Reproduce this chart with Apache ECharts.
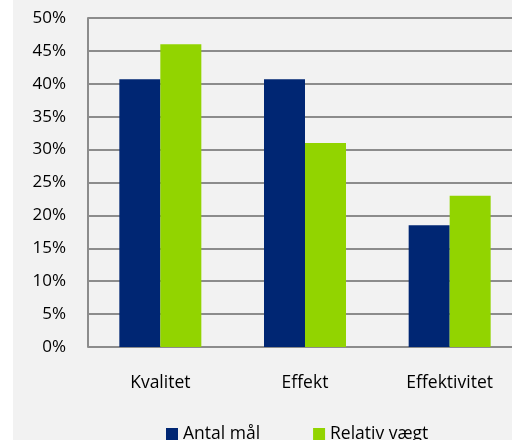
<!DOCTYPE html>
<html>
<head>
<meta charset="utf-8">
<script src="https://cdn.jsdelivr.net/npm/echarts@6/dist/echarts.min.js"></script>
<style>
  html, body { margin: 0; padding: 0; background: #ffffff; overflow: hidden; }
  #chart { width: 522px; height: 440px; }
</style>
</head>
<body>
<div id="chart"></div>
<script>
// Categories and series values (shares, 0..1)
const categories = ['Kvalitet', 'Effekt', 'Effektivitet'];
const antalMaal = [0.407, 0.407, 0.185];
const relativVaegt = [0.46, 0.31, 0.23];
const seriesNames = ['Antal mål', 'Relativ vægt'];

const font = '"Open Sans", "Noto Sans", sans-serif';
const gridColor = '#8c8c8c';

const chart = echarts.init(document.getElementById('chart'), null, { renderer: 'canvas' });

chart.setOption({
  backgroundColor: '#f2f2f2',
  animation: false,
  graphic: [
    { type: 'rect', left: 0, top: 0, shape: { width: 13, height: 440 }, style: { fill: '#ffffff' }, z: -1 }
  ],
  grid: { left: 88, top: 18, bottom: 93, right: 0 },
  legend: {
    left: 166,
    top: 425,
    padding: 0,
    itemWidth: 12,
    itemHeight: 12,
    itemGap: 53,
    icon: 'rect',
    textStyle: { fontFamily: font, fontSize: 17.5, color: '#000000', padding: [0, 0, 0, 0] },
    data: seriesNames
  },
  xAxis: {
    type: 'category',
    data: categories,
    axisLine: { show: false },
    axisTick: { show: false },
    axisLabel: { margin: 27, fontFamily: font, fontSize: 17.5, color: '#000000' }
  },
  yAxis: {
    type: 'value',
    min: 0,
    max: 0.5,
    interval: 0.05,
    axisLine: { show: true, lineStyle: { color: gridColor, width: 2 } },
    axisTick: { show: false },
    splitLine: { show: true, lineStyle: { color: gridColor, width: 2 } },
    axisLabel: {
      margin: 22,
      fontFamily: font,
      fontSize: 17,
      color: '#000000',
      formatter: v => Math.round(v * 100) + '%'
    }
  },
  series: [
    {
      name: seriesNames[0],
      type: 'bar',
      data: antalMaal,
      barWidth: 41,
      barGap: '0%',
      itemStyle: { color: '#002673' }
    },
    {
      name: seriesNames[1],
      type: 'bar',
      data: relativVaegt,
      barWidth: 41,
      barGap: '0%',
      itemStyle: { color: '#92d400' }
    }
  ]
});
</script>
</body>
</html>
